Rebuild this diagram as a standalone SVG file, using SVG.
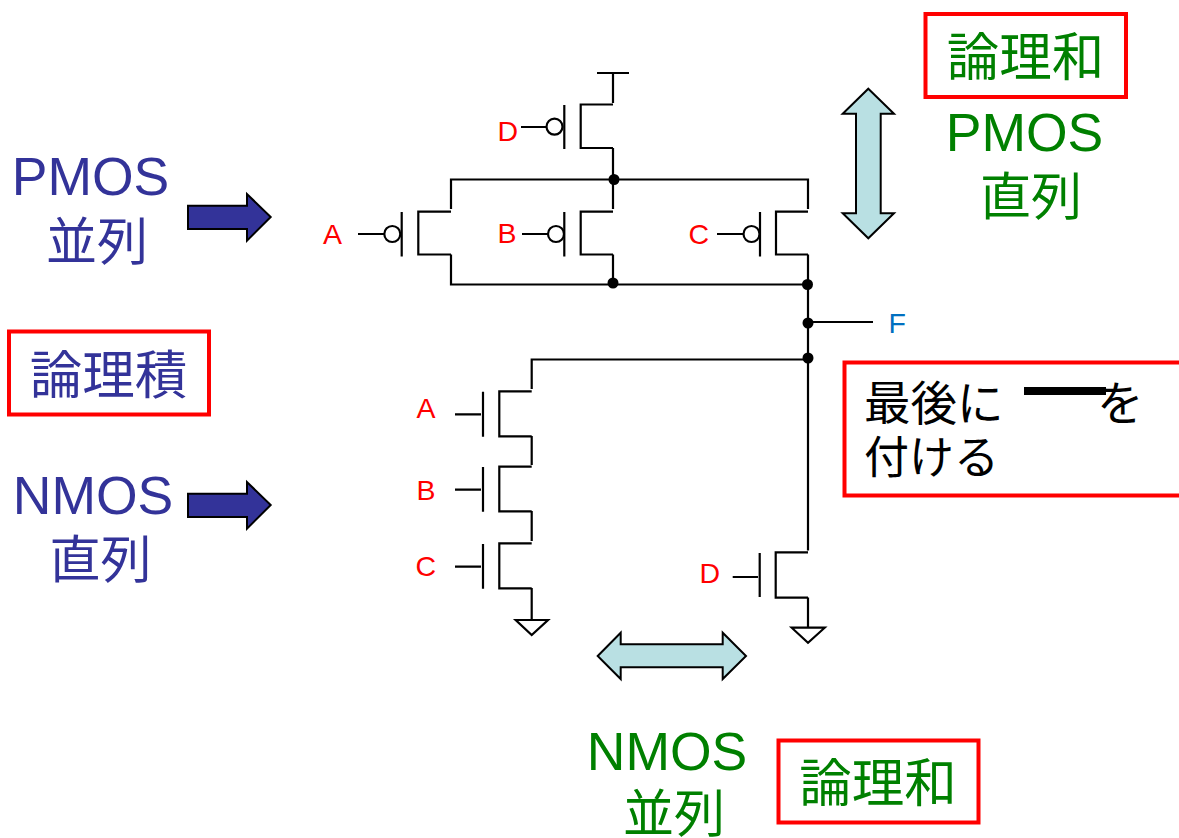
<svg xmlns="http://www.w3.org/2000/svg" width="1179" height="838" viewBox="0 0 1179 838">
<style>
text{font-family:"Liberation Sans","Noto Sans CJK JP",sans-serif}
.w{fill:none;stroke:#000;stroke-width:2.200}
.dot{fill:#000}
.bub{fill:#fff;stroke:#000;stroke-width:2.200}
.gnd{fill:#fff;stroke:#000;stroke-width:2.200;stroke-linejoin:miter}
.lab{font-size:28.500px;fill:#f00}
.fl{font-size:28.500px;fill:#0070c0}
.navy{font-size:53.500px;fill:#333399;text-anchor:middle}
.grn{font-size:53.500px;fill:#008000;text-anchor:middle}
.k3{font-size:52.500px}
.k2{font-size:51px}
.blk{font-size:46.500px;fill:#000}
.box{fill:#fff;stroke:#f00;stroke-width:4}
.a1{fill:#333399;stroke:#000;stroke-width:2}
.a2{fill:#b9e0e3;stroke:#000;stroke-width:2}
</style>
<rect width="1179" height="838" fill="#fff"/>
<g id="connectors">
<path class="w" d="M597 73H629M613 73V103"/>
<path class="w" d="M613 148V209M451 209V179.500H808V209"/>
<path class="w" d="M451 254.500V284.500H808M613 254.500V284.500M808 254.500V550.500"/>
<path class="w" d="M808 322H873"/>
<path class="w" d="M808 359.500H531.700V389"/>
<path class="w" d="M531.700 436V465M531.700 511V541M531.700 588V619M808 597.500V627"/>
<circle class="dot" cx="614" cy="179.500" r="5.500"/>
<circle class="dot" cx="613" cy="283" r="5.500"/>
<circle class="dot" cx="807.500" cy="284.500" r="5.500"/>
<circle class="dot" cx="808" cy="323" r="5.500"/>
<circle class="dot" cx="808" cy="358" r="5.500"/>
</g>
<g id="pmos-d"><path class="w" d="M521 127H547M564.300 105V149M613 104.500H580.700V148H613"/><circle class="bub" cx="554.500" cy="126.700" r="8"/><text class="lab" x="497.500" y="141">D</text></g>
<g id="pmos-a"><path class="w" d="M358 234H384M401.700 212V256.500M451 211.700H418.300V254.500H451"/><circle class="bub" cx="392.300" cy="234" r="8"/><text class="lab" x="323" y="244">A</text></g>
<g id="pmos-b"><path class="w" d="M522 234H548M564.300 212V256.500M613 211.700H580.700V254.500H613"/><circle class="bub" cx="556" cy="234" r="8"/><text class="lab" x="497.500" y="243">B</text></g>
<g id="pmos-c"><path class="w" d="M717 234H743M760 212V256.500M808 211.700H776V254.500H808"/><circle class="bub" cx="751.500" cy="234" r="8"/><text class="lab" x="688.500" y="244">C</text></g>
<g id="output-f"><text class="fl" x="888.500" y="333">F</text></g>
<g id="nmos-a"><path class="w" d="M455 414.300H481M483 391.700V436.700M531.700 391.300H499.300V436.300H531.700"/><text class="lab" x="416.500" y="418">A</text></g>
<g id="nmos-b"><path class="w" d="M455 489.700H481M483 467V511.700M531.700 466.700H499.300V511.300H531.700"/><text class="lab" x="416.500" y="500">B</text></g>
<g id="nmos-c"><path class="w" d="M455 566.700H481M483 544V588.700M531.700 543.300H499.300V588.300H531.700"/><text class="lab" x="415.500" y="576">C</text></g>
<g id="nmos-d"><path class="w" d="M732.700 577H758M759.700 553V597M808 552.300H775.700V597.700H808"/><text class="lab" x="699.500" y="583">D</text></g>
<g id="gnd-1"><path class="gnd" d="M515.700 620H548L531.700 635Z"/></g>
<g id="gnd-2"><path class="gnd" d="M791.700 627.700H824.700L808 642.700Z"/></g>
<g id="arrow-pmos"><path class="a1" d="M188 205.700H247V194L270.700 217L247 240.700V229H188Z"/></g>
<g id="arrow-nmos"><path class="a1" d="M188 493.700H247V482L270.700 505L247 528.700V517H188Z"/></g>
<g id="arrow-v"><path class="a2" d="M868.300 88.700L894 113.700H880.700V213.300H894L868.300 238.300L842.700 213.300H856V113.700H842.700Z"/></g>
<g id="arrow-h"><path class="a2" d="M597.700 656L620.700 632.700V644.300H722.700V632.700L746 656L722.700 679V667.300H620.700V679Z"/></g>
<g id="label-pmos-parallel"><text class="navy" x="90.500" y="195">PMOS</text><text class="navy k2" x="97" y="260">並列</text></g>
<g id="label-nmos-series"><text class="navy" x="93" y="514">NMOS</text><text class="navy k2" x="100.500" y="578">直列</text></g>
<g id="box-and"><rect class="box" x="9" y="331.500" width="200" height="83"/><text class="navy k3" x="108.500" y="393.500">論理積</text></g>
<g id="box-or-top"><rect class="box" x="925.500" y="14" width="200.500" height="83"/><text class="grn k3" x="1025.500" y="75.500">論理和</text></g>
<g id="label-pmos-series"><text class="grn" x="1024.500" y="151">PMOS</text><text class="grn k2" x="1031" y="215">直列</text></g>
<g id="label-nmos-parallel"><text class="grn" x="667" y="770">NMOS</text><text class="grn k2" x="674" y="832">並列</text></g>
<g id="box-or-bottom"><rect class="box" x="778.500" y="740.500" width="200" height="82"/><text class="grn k3" x="878" y="801.500">論理和</text></g>
<g id="box-note"><path class="box" d="M1179 362.500H844.500V495.500H1179"/><text class="blk" x="864" y="420">最後に</text><text class="blk" x="1097" y="420">を</text><text class="blk" x="864" y="474" style="font-size:45px">付ける</text><rect x="1024" y="387" width="82" height="8" fill="#000"/></g>
</svg>
